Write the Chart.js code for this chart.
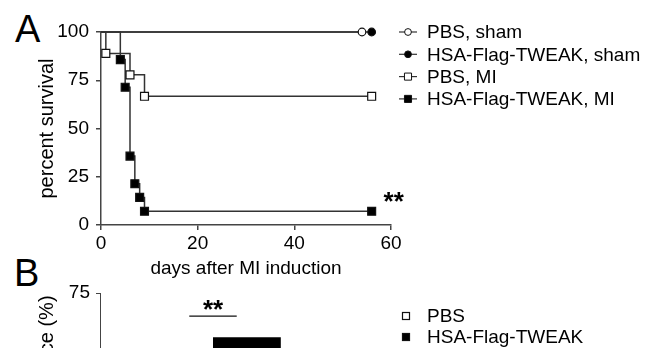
<!DOCTYPE html>
<html>
<head>
<meta charset="utf-8">
<script src="https://cdn.jsdelivr.net/npm/chart.js@4.4.1/dist/chart.umd.min.js"></script>
<style>
  html, body { margin: 0; padding: 0; background: #fff; }
  body { width: 649px; height: 348px; overflow: hidden; position: relative; font-family: "Liberation Sans", Arial, sans-serif; }
  .panel-letter { position: absolute; font-size: 38px; line-height: 1; color: #000; }
  canvas { position: absolute; left: 0; }
</style>
</head>
<body>
<div class="panel-letter" style="left:15px; top:10px">A</div>
<div class="panel-letter" style="left:14px; top:254px">B</div>
<canvas id="survivalChart" width="649" height="285" style="top:0"></canvas>
<canvas id="incidenceChart" width="649" height="260" style="top:270px"></canvas>
<script>
// Panel A: survival after MI (Kaplan-Meier steps)
const seriesNames = ["PBS, sham", "HSA-Flag-TWEAK, sham", "PBS, MI", "HSA-Flag-TWEAK, MI"];
const pbsShamDays = [0, 54];
const pbsShamSurvival = [100, 100];
const hsaShamDays = [0, 56];
const hsaShamSurvival = [100, 100];
const pbsMiDays = [0, 1, 6, 9, 56];
const pbsMiSurvival = [100, 88.9, 77.8, 66.7, 66.7];
const hsaMiDays = [0, 4, 5, 6, 7, 8, 9, 56];
const hsaMiSurvival = [100, 85.7, 71.4, 35.7, 21.4, 14.3, 7.1, 7.1];
const survivalTicks = [0, 25, 50, 75, 100];
const dayTicks = [0, 20, 40, 60];

// Panel B: incidence (only the top is in frame)
const groupNames = ["PBS", "HSA-Flag-TWEAK"];
const incidenceCategories = ["MI"];
const pbsIncidence = [14.3];
const hsaIncidence = [58];
const incidenceTicks = [0, 25, 50, 75];

const FONT = "'Liberation Sans', Arial, sans-serif";
const AXIS = "#444";
const LINE = "#333";
Chart.defaults.font.family = FONT;
Chart.defaults.color = "#000";

function toPoints(days, values) {
  return days.map((d, i) => ({ x: d, y: values[i] }));
}

// no marker on the starting point of each curve
function markerRadii(days, r) {
  return days.map((d, i) => (i === 0 ? 0 : r));
}

function kmDataset(label, days, values, style, fill, radius) {
  return {
    label: label,
    data: toPoints(days, values),
    stepped: true,
    borderColor: LINE,
    borderWidth: 1.5,
    pointStyle: style,
    pointRadius: markerRadii(days, radius),
    pointHoverRadius: markerRadii(days, radius),
    pointBackgroundColor: fill,
    pointBorderColor: "#111",
    pointBorderWidth: 1.2,
    legendRadius: style === "circle" ? 3.4 : 5,
    fill: false,
    clip: false,
  };
}

const survivalLegend = {
  id: "survivalLegend",
  afterDraw(chart) {
    const { ctx, chartArea } = chart;
    const cx = chartArea.right + 17;
    ctx.save();
    chart.data.datasets.forEach((ds, i) => {
      const y = chartArea.top + i * 22.3;
      ctx.strokeStyle = ds.borderColor;
      ctx.lineWidth = 1.2;
      ctx.beginPath();
      ctx.moveTo(cx - 9, y);
      ctx.lineTo(cx + 9, y);
      ctx.stroke();
      ctx.fillStyle = ds.pointBackgroundColor;
      ctx.strokeStyle = ds.pointBorderColor;
      ctx.lineWidth = 1;
      Chart.helpers.drawPoint(ctx, { pointStyle: ds.pointStyle, radius: ds.legendRadius, borderWidth: 1, rotation: 0 }, cx, y);
      ctx.fillStyle = "#000";
      ctx.font = "19px " + FONT;
      ctx.textAlign = "left";
      ctx.textBaseline = "middle";
      ctx.fillText(ds.label, cx + 19, y + 1);
    });
    ctx.restore();
  }
};

// significance stars next to the last HSA-Flag-TWEAK, MI point
const survivalStars = {
  id: "survivalStars",
  afterDatasetsDraw(chart) {
    const meta = chart.getDatasetMeta(3);
    const last = meta.data[meta.data.length - 1];
    const ctx = chart.ctx;
    ctx.save();
    ctx.fillStyle = "#000";
    ctx.font = "bold 26px " + FONT;
    ctx.textAlign = "center";
    ctx.textBaseline = "alphabetic";
    ctx.fillText("**", last.x + 22, last.y - 1);
    ctx.restore();
  }
};

new Chart(document.getElementById("survivalChart"), {
  type: "line",
  data: {
    datasets: [
      kmDataset(seriesNames[0], pbsShamDays, pbsShamSurvival, "circle", "#fff", 3.8),
      kmDataset(seriesNames[1], hsaShamDays, hsaShamSurvival, "circle", "#000", 3.8),
      kmDataset(seriesNames[2], pbsMiDays, pbsMiSurvival, "rect", "#fff", 5.6),
      kmDataset(seriesNames[3], hsaMiDays, hsaMiSurvival, "rect", "#000", 5.6),
    ],
  },
  options: {
    responsive: false,
    animation: false,
    layout: { padding: { top: 32, right: 258, left: 0, bottom: 0 } },
    plugins: { legend: { display: false }, tooltip: { enabled: false } },
    scales: {
      x: {
        type: "linear",
        min: 0,
        max: 60,
        afterBuildTicks: (scale) => { scale.ticks = dayTicks.map((v) => ({ value: v })); },
        afterFit: (scale) => { scale.height = 60; },
        border: { display: true, color: AXIS, width: 1.5 },
        grid: { drawOnChartArea: false, drawTicks: true, tickLength: 5, color: AXIS, lineWidth: 1.5 },
        ticks: { font: { size: 19 }, padding: 2, color: "#000" },
        title: { display: true, text: "days after MI induction", font: { size: 19 }, color: "#000", padding: { top: 0, bottom: 5 } },
      },
      y: {
        type: "linear",
        min: 0,
        max: 100,
        afterBuildTicks: (scale) => { scale.ticks = survivalTicks.map((v) => ({ value: v })); },
        afterFit: (scale) => { scale.width = 101; },
        border: { display: true, color: AXIS, width: 1.5 },
        grid: { drawOnChartArea: false, drawTicks: true, tickLength: 5, color: AXIS, lineWidth: 1.5 },
        ticks: { font: { size: 19 }, padding: 7, color: "#000" },
        title: { display: true, text: "percent survival", font: { size: 20 }, color: "#000", padding: { top: 35, bottom: 0 } },
      },
    },
  },
  plugins: [survivalLegend, survivalStars],
});

// Panel B legend and significance bracket
const incidenceLegend = {
  id: "incidenceLegend",
  afterDraw(chart) {
    const { ctx, chartArea } = chart;
    const cx = chartArea.right + 80;
    ctx.save();
    chart.data.datasets.forEach((ds, i) => {
      const y = chartArea.top + 23 + i * 21;
      ctx.fillStyle = ds.backgroundColor;
      ctx.strokeStyle = "#111";
      ctx.lineWidth = 1.2;
      ctx.fillRect(cx - 3.5, y - 3.5, 7, 7);
      ctx.strokeRect(cx - 3.5, y - 3.5, 7, 7);
      ctx.fillStyle = "#000";
      ctx.font = "19px " + FONT;
      ctx.textAlign = "left";
      ctx.textBaseline = "middle";
      ctx.fillText(ds.label, cx + 21, y + 1);
    });
    ctx.restore();
  }
};

const incidenceStars = {
  id: "incidenceStars",
  afterDatasetsDraw(chart) {
    const a = chart.getDatasetMeta(0).data[0];
    const b = chart.getDatasetMeta(1).data[0];
    const top = Math.min(a.y, b.y);
    const mid = (a.x + b.x) / 2;
    const half = b.width * 0.35;
    const ly = top - 21;
    const ctx = chart.ctx;
    ctx.save();
    ctx.strokeStyle = "#111";
    ctx.lineWidth = 1.2;
    ctx.beginPath();
    ctx.moveTo(mid - half, ly);
    ctx.lineTo(mid + half, ly);
    ctx.stroke();
    ctx.fillStyle = "#000";
    ctx.font = "bold 26px " + FONT;
    ctx.textAlign = "center";
    ctx.textBaseline = "alphabetic";
    ctx.fillText("**", mid, ly + 2);
    ctx.restore();
  }
};

new Chart(document.getElementById("incidenceChart"), {
  type: "bar",
  data: {
    labels: incidenceCategories,
    datasets: [
      { label: groupNames[0], data: pbsIncidence, backgroundColor: "#fff", borderColor: "#111", borderWidth: 1.5 },
      { label: groupNames[1], data: hsaIncidence, backgroundColor: "#000", borderColor: "#000", borderWidth: 0 },
    ],
  },
  options: {
    responsive: false,
    animation: false,
    layout: { padding: { top: 23, right: 323, left: 0, bottom: 0 } },
    datasets: { bar: { categoryPercentage: 0.6, barPercentage: 1.0 } },
    plugins: { legend: { display: false }, tooltip: { enabled: false } },
    scales: {
      x: {
        afterFit: (scale) => { scale.height = 42; },
        border: { display: true, color: AXIS, width: 1 },
        grid: { display: false },
        ticks: { font: { size: 19 }, color: "#000" },
      },
      y: {
        min: 0,
        max: 75,
        afterBuildTicks: (scale) => { scale.ticks = incidenceTicks.map((v) => ({ value: v })); },
        afterFit: (scale) => { scale.width = 100; },
        border: { display: true, color: AXIS, width: 1 },
        grid: { drawOnChartArea: false, drawTicks: true, tickLength: 4, color: AXIS, lineWidth: 1 },
        ticks: { font: { size: 19 }, padding: 6, color: "#000" },
        title: { display: true, text: "rupture incidence (%)", font: { size: 20 }, color: "#000", padding: { top: 35, bottom: 0 } },
      },
    },
  },
  plugins: [incidenceLegend, incidenceStars],
});
</script>
</body>
</html>
